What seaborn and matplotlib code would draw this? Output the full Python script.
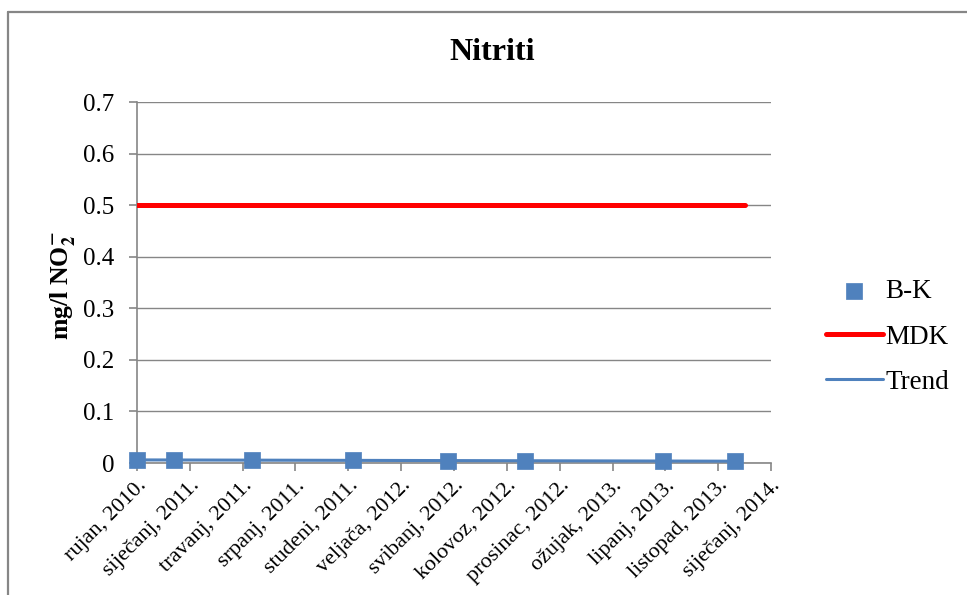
import matplotlib
matplotlib.use("Agg")
import matplotlib.pyplot as plt
import matplotlib.dates as mdates
from matplotlib.lines import Line2D
import seaborn as sns
import pandas as pd

# measured values (B-K station), nitrite in mg/l NO2-
bk_dates = ["2010-09-28", "2010-12-07", "2011-05-04", "2011-11-11",
            "2012-05-09", "2012-10-02", "2013-06-20", "2013-11-03"]
bk_values = [0.005, 0.006, 0.006, 0.005, 0.004, 0.004, 0.003, 0.003]

# MDK limit line
mdk_dates = ["2010-09-28", "2013-11-22"]
mdk_values = [0.5, 0.5]

# trend line
trend_dates = ["2010-09-28", "2013-11-03"]
trend_values = [0.0060, 0.0035]

axis_start = "2010-09-28"
tick_labels = ["rujan, 2010.", "siječanj, 2011.", "travanj, 2011.", "srpanj, 2011.",
               "studeni, 2011.", "veljača, 2012.", "svibanj, 2012.", "kolovoz, 2012.",
               "prosinac, 2012.", "ožujak, 2013.", "lipanj, 2013.", "listopad, 2013.",
               "siječanj, 2014."]
y_ticks = [0, 0.1, 0.2, 0.3, 0.4, 0.5, 0.6, 0.7]
y_labels = ["0", "0.1", "0.2", "0.3", "0.4", "0.5", "0.6", "0.7"]

sns.set_style("white")
plt.rcParams["font.family"] = ["Liberation Serif", "DejaVu Serif"]
plt.rcParams["mathtext.fontset"] = "stix"
plt.rcParams["text.color"] = "black"
plt.rcParams["axes.labelcolor"] = "black"
plt.rcParams["xtick.labelcolor"] = "black"
plt.rcParams["ytick.labelcolor"] = "black"

bk = pd.DataFrame({"date": pd.to_datetime(bk_dates), "value": bk_values})
mdk = pd.DataFrame({"date": pd.to_datetime(mdk_dates), "value": mdk_values})
trend = pd.DataFrame({"date": pd.to_datetime(trend_dates), "value": trend_values})

fig = plt.figure(figsize=(9.67, 5.95), dpi=100)
ax = fig.add_axes([137 / 967, 1 - 463 / 595, 634 / 967, 361 / 595])

gray = "#868686"
blue = "#4F81BD"

sns.lineplot(data=mdk, x="date", y="value", ax=ax, color="#FF0000", linewidth=3.6,
             label="MDK", zorder=3)
sns.lineplot(data=trend, x="date", y="value", ax=ax, color=blue, linewidth=2.2,
             label="Trend", zorder=4)
sns.scatterplot(data=bk, x="date", y="value", ax=ax, color=blue, marker="s", s=120,
                edgecolor=blue, linewidth=0.5, label="B-K", zorder=5, clip_on=False)

start = pd.Timestamp(axis_start)
ticks = [start + pd.Timedelta(days=100 * i) for i in range(len(tick_labels))]
ax.set_xlim(mdates.date2num(ticks[0]), mdates.date2num(ticks[-1]))
ax.set_xticks([mdates.date2num(t) for t in ticks])
ax.set_xticklabels(tick_labels, rotation=45, ha="right", rotation_mode="anchor", fontsize=16)
ax.set_ylim(0, 0.7)
ax.set_yticks(y_ticks)
ax.set_yticklabels(y_labels, fontsize=18)

ax.grid(axis="y", color=gray, linewidth=1.0)
ax.set_axisbelow(True)
for side in ["top", "right"]:
    ax.spines[side].set_visible(False)
for side in ["left", "bottom"]:
    ax.spines[side].set_color(gray)
    ax.spines[side].set_linewidth(1.2)
ax.tick_params(axis="both", direction="out", color=gray, width=1.2, length=5.5,
               bottom=True, left=True)
ax.tick_params(axis="y", pad=11)
ax.tick_params(axis="x", pad=4)

ax.set_xlabel("")
ax.set_ylabel(r"mg/l NO$_\mathbf{2}^{\mathbf{-}}$", fontsize=18.5, fontweight="bold")
ax.yaxis.set_label_coords((78 - 137) / 634, 0.49)

fig.text(492 / 967, 1 - 52 / 595, "Nitriti", fontsize=23, fontweight="bold",
         ha="center", va="center")

handles, labels = ax.get_legend_handles_labels()
order = [labels.index(n) for n in ["B-K", "MDK", "Trend"]]
ax.legend([handles[i] for i in order], [labels[i] for i in order],
          loc="center left", bbox_to_anchor=(826 / 967, 1 - 337 / 595),
          bbox_transform=fig.transFigure, frameon=False, fontsize=19.5,
          handlelength=2.1, handletextpad=0.1, labelspacing=0.75, borderaxespad=0,
          borderpad=0)

# chart border (only left and top visible in the crop)
fig.add_artist(Line2D([8 / 967, 8 / 967], [0, 1 - 12 / 595], transform=fig.transFigure,
                      color=gray, linewidth=1.6))
fig.add_artist(Line2D([8 / 967, 1], [1 - 12 / 595, 1 - 12 / 595], transform=fig.transFigure,
                      color=gray, linewidth=1.6))

fig.savefig("out.png", dpi=100)
